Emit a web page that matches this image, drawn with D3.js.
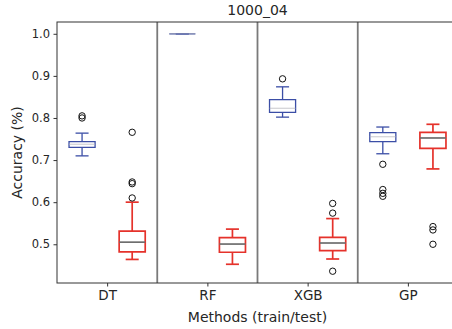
<!DOCTYPE html>
<html lang="en">
<head>
<meta charset="utf-8">
<title>1000_04</title>
<script src="https://d3js.org/d3.v7.min.js"></script>
<style>
  body { margin: 0; background: #fff; }
  svg { display: block; font-family: "DejaVu Sans", sans-serif; }
</style>
</head>
<body>
<script>
// categories
const methods = ["DT", "RF", "XGB", "GP"];
const yTicks = [0.5, 0.6, 0.7, 0.8, 0.9, 1.0];

// train (blue) box stats
const trainLow  = [0.710, 1.000, 0.802, 0.715];
const trainQ1   = [0.730, 1.000, 0.8135, 0.744];
const trainMed  = [0.7375, 1.000, 0.823, 0.7555];
const trainQ3   = [0.744, 1.000, 0.8435, 0.765];
const trainHigh = [0.764, 1.000, 0.874, 0.7785];
const trainOut  = [[0.800, 0.805], [], [0.893], [0.690, 0.630, 0.621, 0.614]];

// test (red) box stats
const testLow  = [0.464, 0.4525, 0.465, 0.679];
const testQ1   = [0.482, 0.481, 0.485, 0.728];
const testMed  = [0.505, 0.5005, 0.503, 0.7525];
const testQ3   = [0.531, 0.516, 0.5165, 0.766];
const testHigh = [0.600, 0.536, 0.561, 0.785];
const testOut  = [[0.766, 0.648, 0.644, 0.610], [], [0.597, 0.574, 0.436], [0.542, 0.534, 0.500]];

const W = 452, H = 329;
const mLeft = 57, mRight = 458, mTop = 22, mBottom = 283;

const svg = d3.select("body").append("svg").attr("width", W).attr("height", H);

const x = d3.scaleLinear().domain([0.5, 4.5]).range([mLeft, mRight]);
const y = d3.scaleLinear().domain([0.408, 1.028]).range([mBottom, mTop]);

// separators between methods
svg.selectAll("line.sep")
  .data([1.5, 2.5, 3.5])
  .join("line")
  .attr("x1", d => x(d)).attr("x2", d => x(d))
  .attr("y1", mTop).attr("y2", mBottom)
  .attr("stroke", "#7a7a7a").attr("stroke-width", 1.8);

function drawBoxes(low, q1, med, q3, high, outs, offset, color, medColor, medOpacity, sw) {
  const bw = 0.26;
  const g = svg.append("g");
  methods.forEach((m, i) => {
    const c = i + 1 + offset;
    const x0 = x(c - bw / 2), x1 = x(c + bw / 2);
    const cx = x(c);
    const capL = x(c - bw / 4), capR = x(c + bw / 4);
    // whiskers
    g.append("line").attr("x1", cx).attr("x2", cx).attr("y1", y(q3[i])).attr("y2", y(high[i]))
      .attr("stroke", color).attr("stroke-width", sw);
    g.append("line").attr("x1", cx).attr("x2", cx).attr("y1", y(q1[i])).attr("y2", y(low[i]))
      .attr("stroke", color).attr("stroke-width", sw);
    g.append("line").attr("x1", capL).attr("x2", capR).attr("y1", y(high[i])).attr("y2", y(high[i]))
      .attr("stroke", color).attr("stroke-width", sw);
    g.append("line").attr("x1", capL).attr("x2", capR).attr("y1", y(low[i])).attr("y2", y(low[i]))
      .attr("stroke", color).attr("stroke-width", sw);
    // box (path so that a flat box still shows)
    const yt = y(q3[i]), yb = y(q1[i]);
    g.append("path")
      .attr("d", `M${x0},${yt}H${x1}V${yb}H${x0}Z`)
      .attr("fill", "none").attr("stroke", color).attr("stroke-width", sw);
    // median
    g.append("line").attr("x1", x0).attr("x2", x1).attr("y1", y(med[i])).attr("y2", y(med[i]))
      .attr("stroke", medColor).attr("stroke-opacity", medOpacity).attr("stroke-width", sw);
    // outliers
    g.selectAll(null).data(outs[i]).join("circle")
      .attr("cx", cx).attr("cy", d => y(d)).attr("r", 3.2)
      .attr("fill", "none").attr("stroke", "#111").attr("stroke-width", 1);
  });
}

drawBoxes(trainLow, trainQ1, trainMed, trainQ3, trainHigh, trainOut, -0.25, "#3b4ea6", "#b0b0b8", 0.55, 1.3);
drawBoxes(testLow, testQ1, testMed, testQ3, testHigh, testOut, 0.25, "#e5322b", "#6e6e6e", 1, 1.7);

// spines
svg.append("rect").attr("x", mLeft).attr("y", mTop).attr("width", mRight - mLeft).attr("height", mBottom - mTop)
  .attr("fill", "none").attr("stroke", "#333").attr("stroke-width", 1);

// axes
const yAxis = d3.axisLeft(y).tickValues(yTicks).tickFormat(d3.format(".1f")).tickSize(3.5).tickPadding(3.5);
const yg = svg.append("g").attr("transform", "translate(" + mLeft + ",0)").call(yAxis);
const xAxis = d3.axisBottom(x).tickValues([1, 2, 3, 4]).tickFormat((d, i) => methods[i]).tickSize(3.5).tickPadding(3.5);
const xg = svg.append("g").attr("transform", "translate(0," + mBottom + ")").call(xAxis);

[yg, xg].forEach(g => {
  g.select(".domain").remove();
  g.selectAll(".tick line").attr("stroke", "#333");
  g.selectAll(".tick text").attr("fill", "#262626").style("font-family", "DejaVu Sans");
});
yg.selectAll(".tick text").style("font-size", "11.5px");
xg.selectAll(".tick text").style("font-size", "13.5px");

// title and labels
svg.append("text").attr("x", (mLeft + mRight) / 2).attr("y", 15).attr("text-anchor", "middle")
  .attr("fill", "#262626").style("font-size", "14px").text("1000_04");
svg.append("text").attr("x", (mLeft + mRight) / 2).attr("y", 322).attr("text-anchor", "middle")
  .attr("fill", "#262626").style("font-size", "14px").text("Methods (train/test)");
svg.append("text").attr("transform", "translate(22," + ((mTop + mBottom) / 2) + ") rotate(-90)")
  .attr("text-anchor", "middle").attr("fill", "#262626").style("font-size", "14px").text("Accuracy (%)");
</script>
</body>
</html>
